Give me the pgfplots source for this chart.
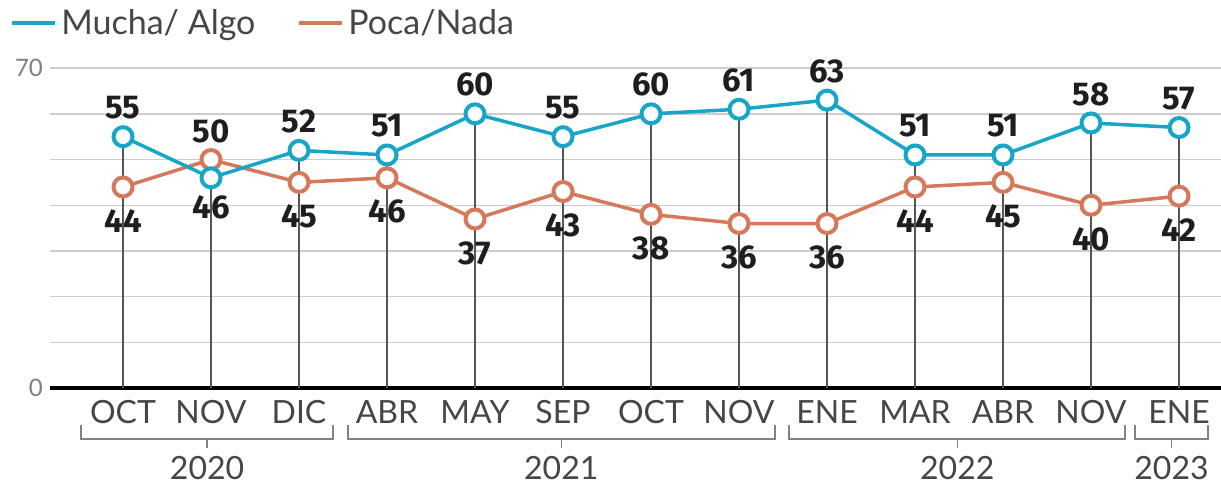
\documentclass[border=0pt]{standalone}
\usepackage{pgfplots}
\usepackage{pgfplotstable}
\pgfplotsset{compat=1.18}
\usepackage{fontspec}
\setmainfont{Lato}
\newfontfamily\numfont{Fira Sans}
\definecolor{blueC}{RGB}{24,166,200}
\definecolor{orangeC}{RGB}{214,120,90}
\definecolor{gridc}{RGB}{205,205,205}
\definecolor{dropc}{RGB}{85,85,85}
\definecolor{textgray}{RGB}{70,70,70}
\definecolor{numc}{RGB}{30,30,30}
\definecolor{brk}{RGB}{130,130,130}
\pgfplotstableread{
x b bo o oo
0 55 14.5 44 -17
1 46 -15 50 14
2 52 14.5 45 -17
3 51 14.5 46 -17
4 60 14.5 37 -17
5 55 14.5 43 -17
6 60 14.5 38 -17
7 61 14.5 36 -17
8 63 14.5 36 -17
9 51 14.5 44 -17
10 51 14.5 45 -17
11 58 14.5 40 -17
12 57 14.5 42 -17
}\data
\begin{document}
\begin{tikzpicture}
\begin{axis}[
 scale only axis, width=585.5pt, height=160pt,
 xmin=-0.83, xmax=12.477, ymin=0, ymax=70,
 clip=false,
 axis x line*=bottom, axis y line*=left,
 x axis line style={line width=2pt, black, -},
 y axis line style={draw=none},
 xtick={0,...,12},
 xticklabels={OCT,NOV,DIC,ABR,MAY,SEP,OCT,NOV,ENE,MAR,ABR,NOV,ENE},
 xticklabel style={font=\fontsize{16}{16}\selectfont, text=textgray, anchor=center, yshift=-12pt},
 ytick={0,10,...,70}, yticklabels={0,,,,,,,70},
 yticklabel style={font=\fontsize{12}{12}\selectfont, text=gray},
 ymajorgrids, grid style={gridc, line width=0.75pt},
 major tick length=0pt,
 /pgf/number format/assume math mode=true,
 legend style={at={(axis description cs:-0.0342,1.14)}, anchor=west, draw=none, fill=none,
   legend columns=2, font=\fontsize{17}{17}\selectfont, text=textgray,
   /tikz/every even column/.append style={column sep=19pt}, inner sep=0pt, nodes={inner sep=2pt}},
 legend cell align=left,
 legend image code/.code={\draw[#1, line width=2pt] (0pt,0pt) -- (21.5pt,0pt);},
]
\addlegendimage{blueC}
\addlegendimage{orangeC}
\addplot[ycomb, dropc, line width=0.75pt, no markers, forget plot] table[x=x,y=b]{\data};
\addplot[orangeC, line width=1.75pt, mark=*, mark size=4.75pt, mark options={fill=white, line width=2pt},
  nodes near coords, point meta=y, forget plot,
  visualization depends on={\thisrow{oo}\as\off},
  every node near coord/.append style={anchor=center, yshift=\off pt, font=\numfont\bfseries\fontsize{16.5}{16.5}\selectfont, text=numc}]
  table[x=x,y=o]{\data};
\addplot[blueC, line width=1.75pt, mark=*, mark size=4.75pt, mark options={fill=white, line width=2pt},
  nodes near coords, point meta=y, forget plot,
  visualization depends on={\thisrow{bo}\as\off},
  every node near coord/.append style={anchor=center, yshift=\off pt, font=\numfont\bfseries\fontsize{16.5}{16.5}\selectfont, text=numc}]
  table[x=x,y=b]{\data};
\legend{Mucha/ Algo, Poca/Nada}
% brackets
\draw[brk, line width=0.75pt] (axis cs:-0.477,-8.09) -- (axis cs:-0.477,-11.16) -- (axis cs:2.386,-11.16) -- (axis cs:2.386,-8.09);
\draw[brk, line width=0.75pt] (axis cs:0.955,-11.16) -- (axis cs:0.955,-13.1);
\draw[brk, line width=0.75pt] (axis cs:2.557,-8.09) -- (axis cs:2.557,-11.16) -- (axis cs:7.41,-11.16) -- (axis cs:7.41,-8.09);
\draw[brk, line width=0.75pt] (axis cs:4.98,-11.16) -- (axis cs:4.98,-13.1);
\draw[brk, line width=0.75pt] (axis cs:7.57,-8.09) -- (axis cs:7.57,-11.16) -- (axis cs:11.386,-11.16) -- (axis cs:11.386,-8.09);
\draw[brk, line width=0.75pt] (axis cs:9.48,-11.16) -- (axis cs:9.48,-13.1);
\draw[brk, line width=0.75pt] (axis cs:11.5,-8.09) -- (axis cs:11.5,-11.16) -- (axis cs:12.33,-11.16) -- (axis cs:12.33,-8.09);
\draw[brk, line width=0.75pt] (axis cs:11.915,-11.16) -- (axis cs:11.915,-13.1);
\node[font=\fontsize{16}{16}\selectfont, text=textgray] at (axis cs:0.955,-17.5) {2020};
\node[font=\fontsize{16}{16}\selectfont, text=textgray] at (axis cs:4.98,-17.5) {2021};
\node[font=\fontsize{16}{16}\selectfont, text=textgray] at (axis cs:9.48,-17.5) {2022};
\node[font=\fontsize{16}{16}\selectfont, text=textgray] at (axis cs:11.915,-17.5) {2023};
\coordinate (bl) at (axis cs:-1.398,-21.66);
\coordinate (tr) at (axis cs:12.477,84.9);
\end{axis}
\pgfresetboundingbox
\path (bl) rectangle (tr);
\end{tikzpicture}
\end{document}
